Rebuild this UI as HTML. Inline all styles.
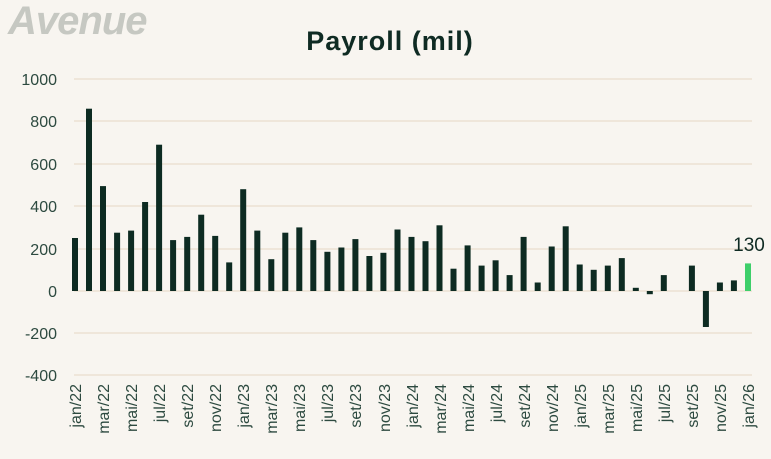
<!DOCTYPE html>
<html><head><meta charset="utf-8"><style>
body{margin:0;background:#f8f5f0;}
svg{display:block;font-family:"Liberation Sans",sans-serif;}
</style></head><body>
<svg id="s" width="771" height="459" xmlns="http://www.w3.org/2000/svg">
<rect width="771" height="459" fill="#f8f5f0"/>
<text x="8" y="34" font-size="40" font-style="italic" fill="#c6c8c2" font-weight="bold" letter-spacing="-1">Avenue</text>
<text x="390" y="50" text-anchor="middle" font-size="27" font-weight="bold" fill="#0f2b23" letter-spacing="1">Payroll  (mil)</text>
<g stroke="#ece2d3" stroke-width="1.5">
<line x1="74" x2="752" y1="79" y2="79"/><line x1="74" x2="752" y1="121" y2="121"/>
<line x1="74" x2="752" y1="164" y2="164"/><line x1="74" x2="752" y1="206" y2="206"/>
<line x1="74" x2="752" y1="249" y2="249"/><line x1="74" x2="752" y1="291" y2="291"/>
<line x1="74" x2="752" y1="333" y2="333"/><line x1="74" x2="752" y1="375" y2="375"/>
</g>
<g font-size="16" fill="#2d4a40" text-anchor="end">
<text x="57" y="85">1000</text><text x="57" y="127">800</text><text x="57" y="170">600</text>
<text x="57" y="212">400</text><text x="57" y="255">200</text><text x="57" y="297">0</text>
<text x="57" y="339">-200</text><text x="57" y="381">-400</text>
</g>
<g id="bars"></g>
<text x="749" y="251" text-anchor="middle" font-size="19" fill="#0f2b23">130</text>
<g font-size="16" fill="#2d4a40" text-anchor="end">
<text transform="translate(81,384) rotate(-90)">jan/22</text>
<text transform="translate(109,384) rotate(-90)">mar/22</text>
<text transform="translate(137,384) rotate(-90)">mai/22</text>
<text transform="translate(165,384) rotate(-90)">jul/22</text>
<text transform="translate(193,384) rotate(-90)">set/22</text>
<text transform="translate(221,384) rotate(-90)">nov/22</text>
<text transform="translate(249,384) rotate(-90)">jan/23</text>
<text transform="translate(277,384) rotate(-90)">mar/23</text>
<text transform="translate(305,384) rotate(-90)">mai/23</text>
<text transform="translate(333,384) rotate(-90)">jul/23</text>
<text transform="translate(361,384) rotate(-90)">set/23</text>
<text transform="translate(390,384) rotate(-90)">nov/23</text>
<text transform="translate(418,384) rotate(-90)">jan/24</text>
<text transform="translate(446,384) rotate(-90)">mar/24</text>
<text transform="translate(474,384) rotate(-90)">mai/24</text>
<text transform="translate(502,384) rotate(-90)">jul/24</text>
<text transform="translate(530,384) rotate(-90)">set/24</text>
<text transform="translate(558,384) rotate(-90)">nov/24</text>
<text transform="translate(586,384) rotate(-90)">jan/25</text>
<text transform="translate(614,384) rotate(-90)">mar/25</text>
<text transform="translate(642,384) rotate(-90)">mai/25</text>
<text transform="translate(670,384) rotate(-90)">jul/25</text>
<text transform="translate(698,384) rotate(-90)">set/25</text>
<text transform="translate(726,384) rotate(-90)">nov/25</text>
<text transform="translate(754,384) rotate(-90)">jan/26</text>
</g>
</svg>
<script>
var v=[250,860,495,275,285,420,690,240,255,360,260,135,480,285,150,275,300,240,185,205,245,165,180,290,255,235,310,105,215,120,145,75,255,40,210,305,125,100,120,155,15,-15,75,0,120,-170,40,50,130];
var g=document.getElementById('bars'),h='';
for(var i=0;i<v.length;i++){var x=75+14.02*i-3,y0=291,hh=Math.abs(v[i])*0.212;
var y=v[i]>=0?y0-hh:y0;if(hh<1)continue;
h+='<rect x="'+x.toFixed(1)+'" y="'+y.toFixed(1)+'" width="6" height="'+hh.toFixed(1)+'" fill="'+(i==48?'#3ecf6a':'#0d2b22')+'"/>';}
g.innerHTML=h;
</script>
</body></html>
